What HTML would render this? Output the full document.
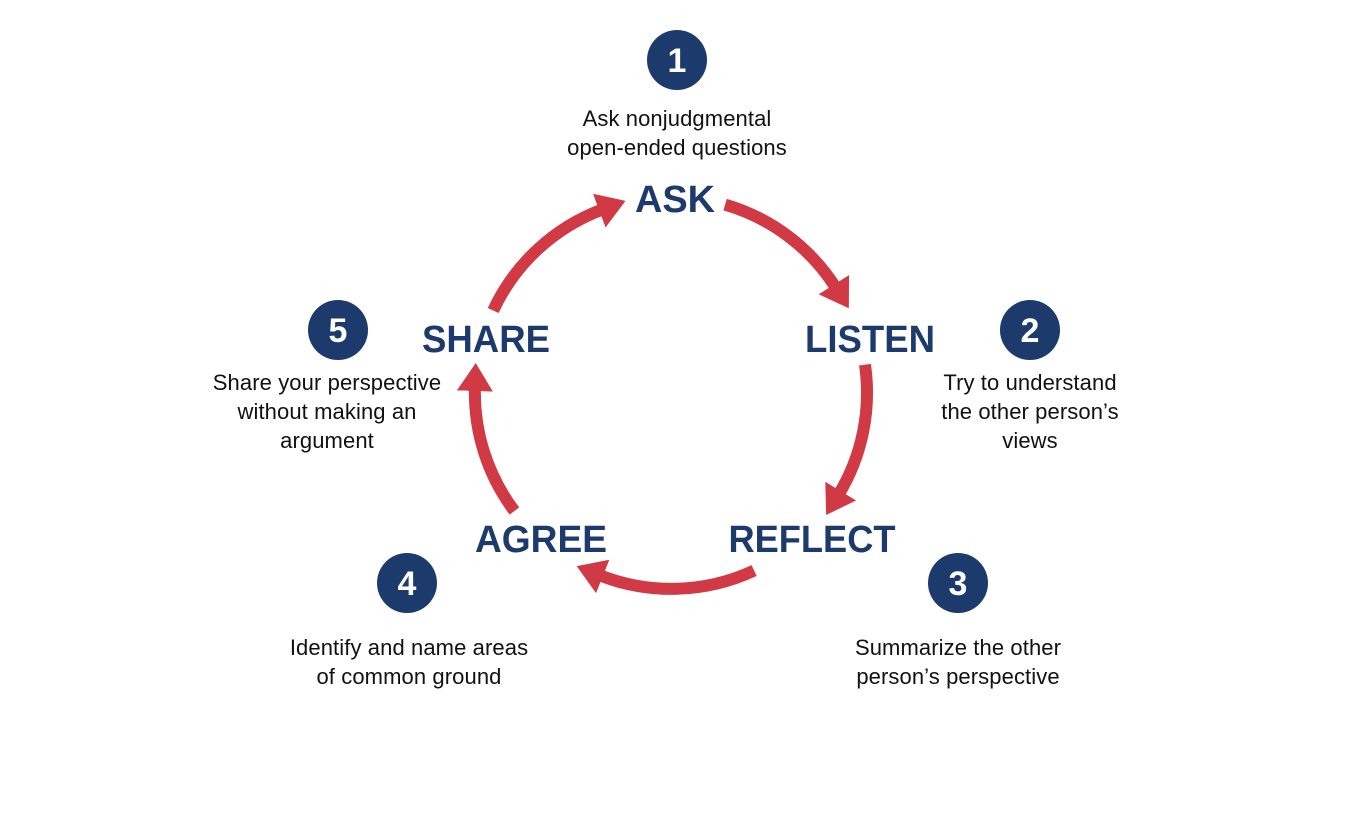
<!DOCTYPE html>
<html><head><meta charset="utf-8"><style>
html,body{margin:0;padding:0;background:#fff;}
svg{display:block;}
.lbl{font-family:"Liberation Sans",sans-serif;font-weight:bold;font-size:38px;fill:#1c3a6b;text-anchor:middle;}
.num{font-family:"Liberation Sans",sans-serif;font-weight:bold;font-size:34px;fill:#fff;text-anchor:middle;}
.d{font-family:"Liberation Sans",sans-serif;font-size:22px;letter-spacing:0.1px;fill:#111;text-anchor:middle;}
.arc{fill:none;stroke:#d13a45;stroke-width:12;marker-end:url(#ah);}
</style></head><body>
<svg width="1346" height="816" viewBox="0 0 1346 816" xmlns="http://www.w3.org/2000/svg">
<defs>
<marker id="ah" markerUnits="userSpaceOnUse" viewBox="0 0 28 36" markerWidth="28" markerHeight="36" refX="4" refY="18" orient="auto">
<path d="M0,0 L28,18 L0,36 z" fill="#d13a45"/>
</marker>
</defs>
<path class="arc" d="M493.2,310.5 A196,196 0 0 1 603.0,209.2"/>
<path class="arc" d="M725.1,204.6 A196,196 0 0 1 836.0,288.0"/>
<path class="arc" d="M865.0,364.7 A196,196 0 0 1 838.6,494.5"/>
<path class="arc" d="M754.1,570.6 A196,196 0 0 1 599.0,575.0"/>
<path class="arc" d="M514.4,511.0 A196,196 0 0 1 475.0,387.0"/>

<text class="lbl" x="675" y="212" textLength="80" lengthAdjust="spacingAndGlyphs">ASK</text>
<text class="lbl" x="870" y="352" textLength="130" lengthAdjust="spacingAndGlyphs">LISTEN</text>
<text class="lbl" x="812" y="552" textLength="167" lengthAdjust="spacingAndGlyphs">REFLECT</text>
<text class="lbl" x="541" y="552" textLength="132" lengthAdjust="spacingAndGlyphs">AGREE</text>
<text class="lbl" x="486" y="352" textLength="128" lengthAdjust="spacingAndGlyphs">SHARE</text>

<g fill="#1c3a6b">
<circle cx="677" cy="60" r="30"/>
<circle cx="1030" cy="330" r="30"/>
<circle cx="958" cy="583" r="30"/>
<circle cx="407" cy="583" r="30"/>
<circle cx="338" cy="330" r="30"/>
</g>
<text class="num" x="677" y="72">1</text>
<text class="num" x="1030" y="342">2</text>
<text class="num" x="958" y="595">3</text>
<text class="num" x="407" y="595">4</text>
<text class="num" x="338" y="342">5</text>

<text class="d" x="677" y="126">Ask nonjudgmental</text>
<text class="d" x="677" y="155">open-ended questions</text>
<text class="d" x="1030" y="390">Try to understand</text>
<text class="d" x="1030" y="419">the other person’s</text>
<text class="d" x="1030" y="448">views</text>
<text class="d" x="958" y="655">Summarize the other</text>
<text class="d" x="958" y="684">person’s perspective</text>
<text class="d" x="409" y="655">Identify and name areas</text>
<text class="d" x="409" y="684">of common ground</text>
<text class="d" x="327" y="390">Share your perspective</text>
<text class="d" x="327" y="419">without making an</text>
<text class="d" x="327" y="448">argument</text>
</svg>
</body></html>
